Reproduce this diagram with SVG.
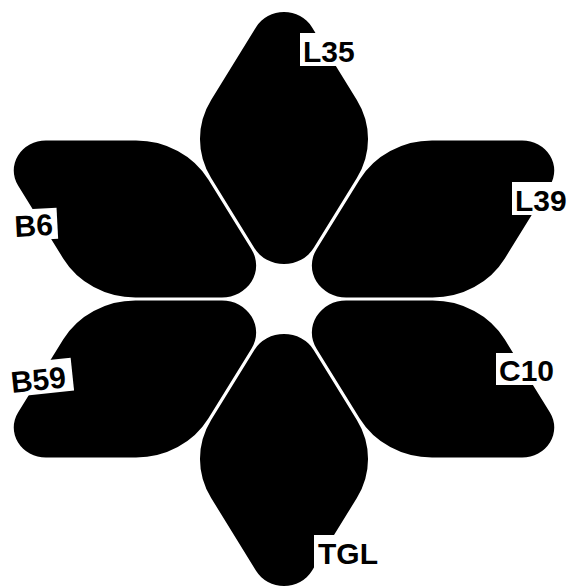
<svg xmlns="http://www.w3.org/2000/svg" xmlns:xlink="http://www.w3.org/1999/xlink" width="569" height="588" viewBox="0 0 569 588">
  <style>
    .petal { fill: #000; }
    .lblbox { fill: #fff; }
    .lbl { font-family: "Liberation Sans", Arial, sans-serif; font-weight: bold; font-size: 30px; fill: #000; }
  </style>
  <defs>
    <path id="petal" d="M -25.98,-112 A 30 30 0 0 1 25.98,-112 L 68.08,-39 A 78 78 0 0 1 68.08,39 L 27.71,109 A 32 32 0 0 1 -27.71,109 L -68.08,39 A 78 78 0 0 1 -68.08,-39 Z"/>
  </defs>
  <rect width="569" height="588" fill="#fff"/>
  <g id="connectors"/>
  <g id="L35">
    <use xlink:href="#petal" href="#petal" class="petal" transform="translate(284,299) scale(1.07,1) rotate(0) translate(0,-160)"/>
    <rect class="lblbox" x="300" y="33" width="61" height="33"/>
    <text class="lbl" x="303" y="62">L35</text>
  </g>
  <g id="L39">
    <use xlink:href="#petal" href="#petal" class="petal" transform="translate(284,299) scale(1.07,1) rotate(60) translate(0,-160)"/>
    <rect class="lblbox" x="512" y="182" width="57" height="33"/>
    <text class="lbl" x="515" y="211">L39</text>
  </g>
  <g id="C10">
    <use xlink:href="#petal" href="#petal" class="petal" transform="translate(284,299) scale(1.07,1) rotate(120) translate(0,-160)"/>
    <rect class="lblbox" x="496" y="353" width="60" height="32"/>
    <text class="lbl" x="499" y="381">C10</text>
  </g>
  <g id="TGL">
    <use xlink:href="#petal" href="#petal" class="petal" transform="translate(284,299) scale(1.07,1) rotate(180) translate(0,-160)"/>
    <rect class="lblbox" x="314" y="535" width="62" height="33"/>
    <text class="lbl" x="318" y="564">TGL</text>
  </g>
  <g id="B59">
    <use xlink:href="#petal" href="#petal" class="petal" transform="translate(284,299) scale(1.07,1) rotate(240) translate(0,-160)"/>
    <g transform="rotate(-6 12 393)">
      <rect class="lblbox" x="8" y="364" width="66" height="33"/>
      <text class="lbl" x="12" y="393">B59</text>
    </g>
  </g>
  <g id="B6">
    <use xlink:href="#petal" href="#petal" class="petal" transform="translate(284,299) scale(1.07,1) rotate(300) translate(0,-160)"/>
    <g transform="rotate(-3 15 237)">
      <rect class="lblbox" x="10" y="210" width="48" height="31"/>
      <text class="lbl" x="15" y="237">B6</text>
    </g>
  </g>
</svg>
